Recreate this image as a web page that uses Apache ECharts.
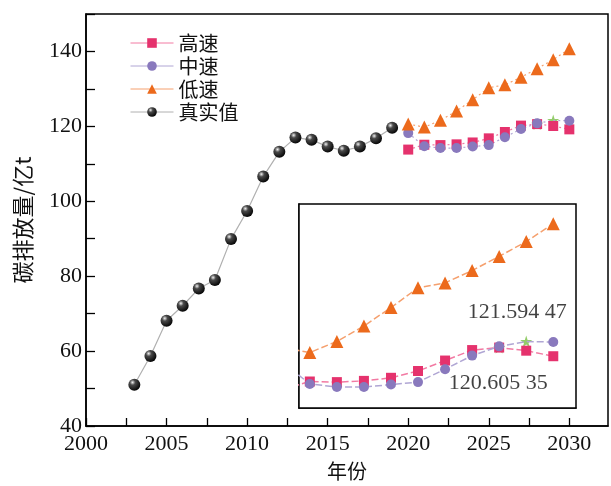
<!DOCTYPE html>
<html>
<head>
<meta charset="utf-8">
<title>碳排放量预测</title>
<script src="https://cdn.jsdelivr.net/npm/echarts@6/dist/echarts.min.js"></script>
<style>
  html, body { margin: 0; padding: 0; background: #fff; }
  #chart { width: 611px; height: 486px; }
</style>
</head>
<body>
<div id="chart"></div>
<script>
// 真实值 2003-2019
const realYears = [2003, 2004, 2005, 2006, 2007, 2008, 2009, 2010, 2011, 2012, 2013, 2014, 2015, 2016, 2017, 2018, 2019];
const realValues = [51.0, 58.7, 68.1, 72.1, 76.7, 79.0, 89.9, 97.4, 106.6, 113.2, 117.0, 116.4, 114.6, 113.5, 114.6, 116.8, 119.6];

// 三种情景预测 2020-2030
const predYears = [2020, 2021, 2022, 2023, 2024, 2025, 2026, 2027, 2028, 2029, 2030];
const highValues = [113.8, 115.1, 115.0, 115.2, 115.7, 116.8, 118.5, 120.2, 120.60535, 120.1, 119.2];
const midValues = [118.2, 114.7, 114.2, 114.2, 114.6, 115.0, 117.1, 119.3, 120.8, 121.59447, 121.5];
const lowValues = [120.6, 119.8, 121.6, 124.1, 127.1, 130.3, 131.1, 133.1, 135.4, 137.8, 140.7];

// 峰值(绿色星号)
const peakYears = [2028, 2029];
const peakValues = [120.60535, 121.59447];

const names = ["高速", "中速", "低速", "真实值"];
const xTicks = [2022.5, 2025, 2027.5, 2030];
const yTicks = [120, 130, 140];

const serif = "'Liberation Serif', 'Times New Roman', serif";
const cjk = "'Noto Sans CJK SC', sans-serif";

const chart = echarts.init(document.getElementById('chart'));

const pairs = (xs, vs) => xs.map((x, i) => [x, vs[i]]);
// 中速在峰值年份由星号代替
const midPairs = predYears.map((x, i) =>
  x === peakYears[1] ? { value: [x, midValues[i]], symbol: 'none' } : [x, midValues[i]]);

const sphere = new echarts.graphic.RadialGradient(0.35, 0.3, 0.75, [
  { offset: 0, color: '#f2f2f2' },
  { offset: 0.3, color: '#4a4a4a' },
  { offset: 1, color: '#000' }
]);

// 数字格式: 121.594 47
const fmtPeak = v => {
  const s = v.toFixed(5);
  return s.slice(0, s.length - 2) + ' ' + s.slice(s.length - 2);
};

const predStyle = {
  high: { sym: 'rect', color: '#e5326d', line: '#f27aa3' },
  mid: { sym: 'circle', color: '#8979bd', line: '#b0a6d4' },
  low: { sym: 'triangle', color: '#ec6a1c', line: '#f5a06e' }
};

function predSeries(name, data, st, gi, inset) {
  return {
    name: name,
    type: 'line',
    xAxisIndex: gi,
    yAxisIndex: gi,
    data: data,
    symbol: st.sym,
    symbolSize: st.sym === 'triangle' ? 13 : 10,
    itemStyle: { color: st.color },
    lineStyle: { color: st.line, width: inset ? 1.5 : 1.2, type: inset ? [7, 3] : [2, 3] },
    emphasis: { disabled: true },
    animation: false,
    z: 3
  };
}

function starSeries(gi, withLabel) {
  return {
    name: '峰值',
    type: 'scatter',
    xAxisIndex: gi,
    yAxisIndex: gi,
    data: pairs(peakYears, peakValues).map((p, i) => ({
      value: p,
      label: withLabel ? {
        show: true,
        position: 'inside',
        offset: i === 0 ? [-1, 36] : [-9, -29],
        formatter: () => fmtPeak(p[1]),
        fontFamily: serif,
        fontSize: 22,
        color: '#111'
      } : { show: false }
    })),
    symbol: 'path://M50,0 L61,35 L98,35 L68,57 L79,92 L50,70 L21,92 L32,57 L2,35 L39,35 Z',
    symbolSize: 12,
    itemStyle: { color: '#78c043' },
    emphasis: { disabled: true },
    animation: false,
    z: 2
  };
}

const axisLine = { show: true, lineStyle: { color: '#000', width: 1.5 } };

const option = {
  backgroundColor: '#fff',
  animation: false,
  legend: {
    data: names,
    orient: 'vertical',
    left: 130,
    top: 33,
    padding: 0,
    itemWidth: 43,
    itemHeight: 12,
    itemGap: 3,
    lineStyle: { type: 'solid', width: 1 },
    textStyle: { fontFamily: cjk, fontSize: 20, color: '#111', lineHeight: 20 }
  },
  grid: [
    { left: 86, top: 14, width: 522, height: 418, show: true, borderColor: '#000', borderWidth: 1.5, backgroundColor: 'transparent' },
    { left: 299, top: 204, width: 277, height: 204, show: true, borderColor: '#000', borderWidth: 1.5, backgroundColor: '#fff', z: 1 }
  ],
  xAxis: [
    {
      gridIndex: 0,
      type: 'value',
      min: 2000,
      max: 2032.4,
      interval: 2.5,
      name: '年份',
      nameLocation: 'middle',
      nameGap: 35,
      nameTextStyle: { fontFamily: cjk, fontSize: 20, color: '#111' },
      axisLine: axisLine,
      axisTick: { inside: true, length: 8, lineStyle: { color: '#000', width: 1.3 } },
      axisLabel: {
        margin: 7,
        fontFamily: serif,
        fontSize: 22,
        color: '#111',
        showMaxLabel: false,
        formatter: v => (v % 5 === 0 ? String(v) : '')
      },
      splitLine: { show: false }
    },
    {
      gridIndex: 1,
      type: 'value',
      min: 2020.6,
      max: 2030.84,
      axisLine: axisLine,
      axisTick: { inside: true, length: 8, customValues: xTicks, lineStyle: { color: '#000', width: 1.3 } },
      axisLabel: { show: false },
      splitLine: { show: false }
    }
  ],
  yAxis: [
    {
      gridIndex: 0,
      type: 'value',
      min: 40,
      max: 150,
      interval: 10,
      name: '碳排放量/亿t',
      nameLocation: 'middle',
      nameGap: 52,
      nameTextStyle: { fontFamily: cjk, fontSize: 22, color: '#111' },
      axisLine: axisLine,
      axisTick: { inside: true, length: 9, lineStyle: { color: '#000', width: 1.3 } },
      axisLabel: {
        margin: 4,
        fontFamily: serif,
        fontSize: 22,
        color: '#111',
        formatter: v => (v % 20 === 0 && v <= 140 ? String(v) : '')
      },
      splitLine: { show: false }
    },
    {
      gridIndex: 1,
      type: 'value',
      min: 110.8,
      max: 143.9,
      axisLine: axisLine,
      axisTick: { inside: true, length: 7, customValues: yTicks, lineStyle: { color: '#000', width: 1.3 } },
      axisLabel: { show: false },
      splitLine: { show: false }
    }
  ],
  series: [
    starSeries(0, false),
    predSeries('高速', pairs(predYears, highValues), predStyle.high, 0, false),
    predSeries('中速', midPairs, predStyle.mid, 0, false),
    predSeries('低速', pairs(predYears, lowValues), predStyle.low, 0, false),
    {
      name: '真实值',
      type: 'line',
      data: pairs(realYears, realValues),
      symbol: 'circle',
      symbolSize: 12,
      itemStyle: { color: sphere },
      lineStyle: { color: '#b0b0b0', width: 1.2 },
      emphasis: { disabled: true },
      z: 3
    },
    starSeries(1, true),
    predSeries('高速', pairs(predYears, highValues), predStyle.high, 1, true),
    predSeries('中速', midPairs, predStyle.mid, 1, true),
    predSeries('低速', pairs(predYears, lowValues), predStyle.low, 1, true)
  ]
};

chart.setOption(option);
</script>
</body>
</html>
